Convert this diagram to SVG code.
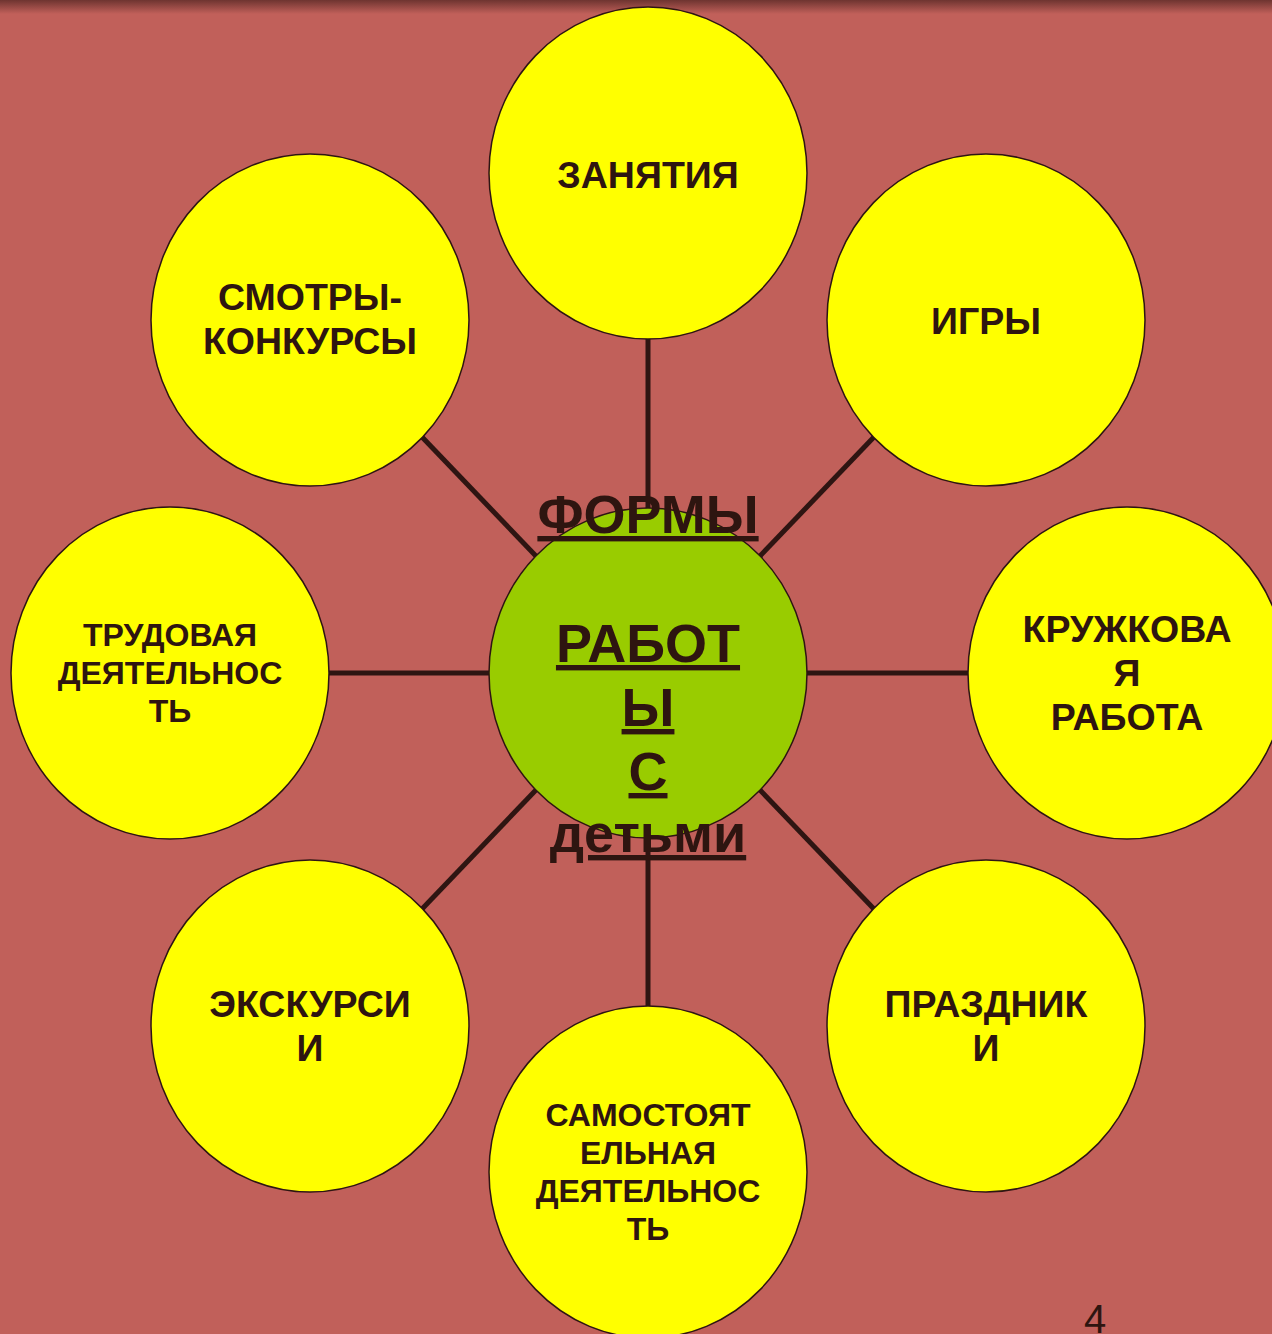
<svg xmlns="http://www.w3.org/2000/svg" width="1272" height="1334" viewBox="0 0 1272 1334">
<defs>
<linearGradient id="topShade" x1="0" y1="0" x2="0" y2="1">
<stop offset="0" stop-color="#6E3430"/>
<stop offset="1" stop-color="#C1605A"/>
</linearGradient>
</defs>
<style>
.bg{fill:#C1605A}
.conn{stroke:#2E1512;stroke-width:5;fill:none}
.leaf{fill:#FFFF00;stroke:#2E1512;stroke-width:1.5}
.hub{fill:#99CC00;stroke:#2E1512;stroke-width:1.5}
.t{font-family:"Liberation Sans",Arial,sans-serif;font-weight:bold;fill:#2E1510;text-anchor:middle}
.big{font-size:37.5px}
.mid{font-size:32px}
.ctr{font-size:54px;text-decoration:underline}
.num{font-family:"Liberation Sans",Arial,sans-serif;font-size:40px;fill:#2E1510;text-anchor:middle}
</style>
<rect class="bg" x="0" y="0" width="1272" height="1334"/>
<rect x="0" y="0" width="1272" height="14" fill="url(#topShade)"/>
<g id="connectors">
<line class="conn" x1="648" y1="673" x2="648" y2="173"/>
<line class="conn" x1="648" y1="673" x2="986" y2="320"/>
<line class="conn" x1="648" y1="673" x2="1127" y2="673"/>
<line class="conn" x1="648" y1="673" x2="986" y2="1026"/>
<line class="conn" x1="648" y1="673" x2="648" y2="1172"/>
<line class="conn" x1="648" y1="673" x2="310" y2="1026"/>
<line class="conn" x1="648" y1="673" x2="170" y2="673"/>
<line class="conn" x1="648" y1="673" x2="310" y2="320"/>
</g>
<g id="n-zanyatiya">
<ellipse class="leaf" cx="648" cy="173" rx="159" ry="166"/>
<text class="t big" x="648" y="188">ЗАНЯТИЯ</text>
</g>
<g id="n-igry">
<ellipse class="leaf" cx="986" cy="320" rx="159" ry="166"/>
<text class="t big" x="986" y="334">ИГРЫ</text>
</g>
<g id="n-kruzhkovaya">
<ellipse class="leaf" cx="1127" cy="673" rx="159" ry="166"/>
<text class="t big" x="1127" y="642">КРУЖКОВА</text>
<text class="t big" x="1127" y="686">Я</text>
<text class="t big" x="1127" y="730">РАБОТА</text>
</g>
<g id="n-prazdniki">
<ellipse class="leaf" cx="986" cy="1026" rx="159" ry="166"/>
<text class="t big" x="986" y="1017">ПРАЗДНИК</text>
<text class="t big" x="986" y="1061">И</text>
</g>
<g id="n-samostoyatelnaya">
<ellipse class="leaf" cx="648" cy="1172" rx="159" ry="166"/>
<text class="t mid" x="648" y="1126">САМОСТОЯТ</text>
<text class="t mid" x="648" y="1164">ЕЛЬНАЯ</text>
<text class="t mid" x="648" y="1202">ДЕЯТЕЛЬНОС</text>
<text class="t mid" x="648" y="1240">ТЬ</text>
</g>
<g id="n-ekskursii">
<ellipse class="leaf" cx="310" cy="1026" rx="159" ry="166"/>
<text class="t big" x="310" y="1017">ЭКСКУРСИ</text>
<text class="t big" x="310" y="1061">И</text>
</g>
<g id="n-trudovaya">
<ellipse class="leaf" cx="170" cy="673" rx="159" ry="166"/>
<text class="t mid" x="170" y="646">ТРУДОВАЯ</text>
<text class="t mid" x="170" y="684">ДЕЯТЕЛЬНОС</text>
<text class="t mid" x="170" y="722">ТЬ</text>
</g>
<g id="n-smotry">
<ellipse class="leaf" cx="310" cy="320" rx="159" ry="166"/>
<text class="t big" x="310" y="310">СМОТРЫ-</text>
<text class="t big" x="310" y="354">КОНКУРСЫ</text>
</g>
<g id="n-center">
<ellipse class="hub" cx="648" cy="673" rx="159" ry="165"/>
<text class="t ctr" x="648" y="533">ФОРМЫ</text>
<text class="t ctr" x="648" y="662">РАБОТ</text>
<text class="t ctr" x="648" y="726">Ы</text>
<text class="t ctr" x="648" y="790">С</text>
<text class="t ctr" x="648" y="852">детьми</text>
</g>
<text class="num" x="1095" y="1333">4</text>
</svg>
